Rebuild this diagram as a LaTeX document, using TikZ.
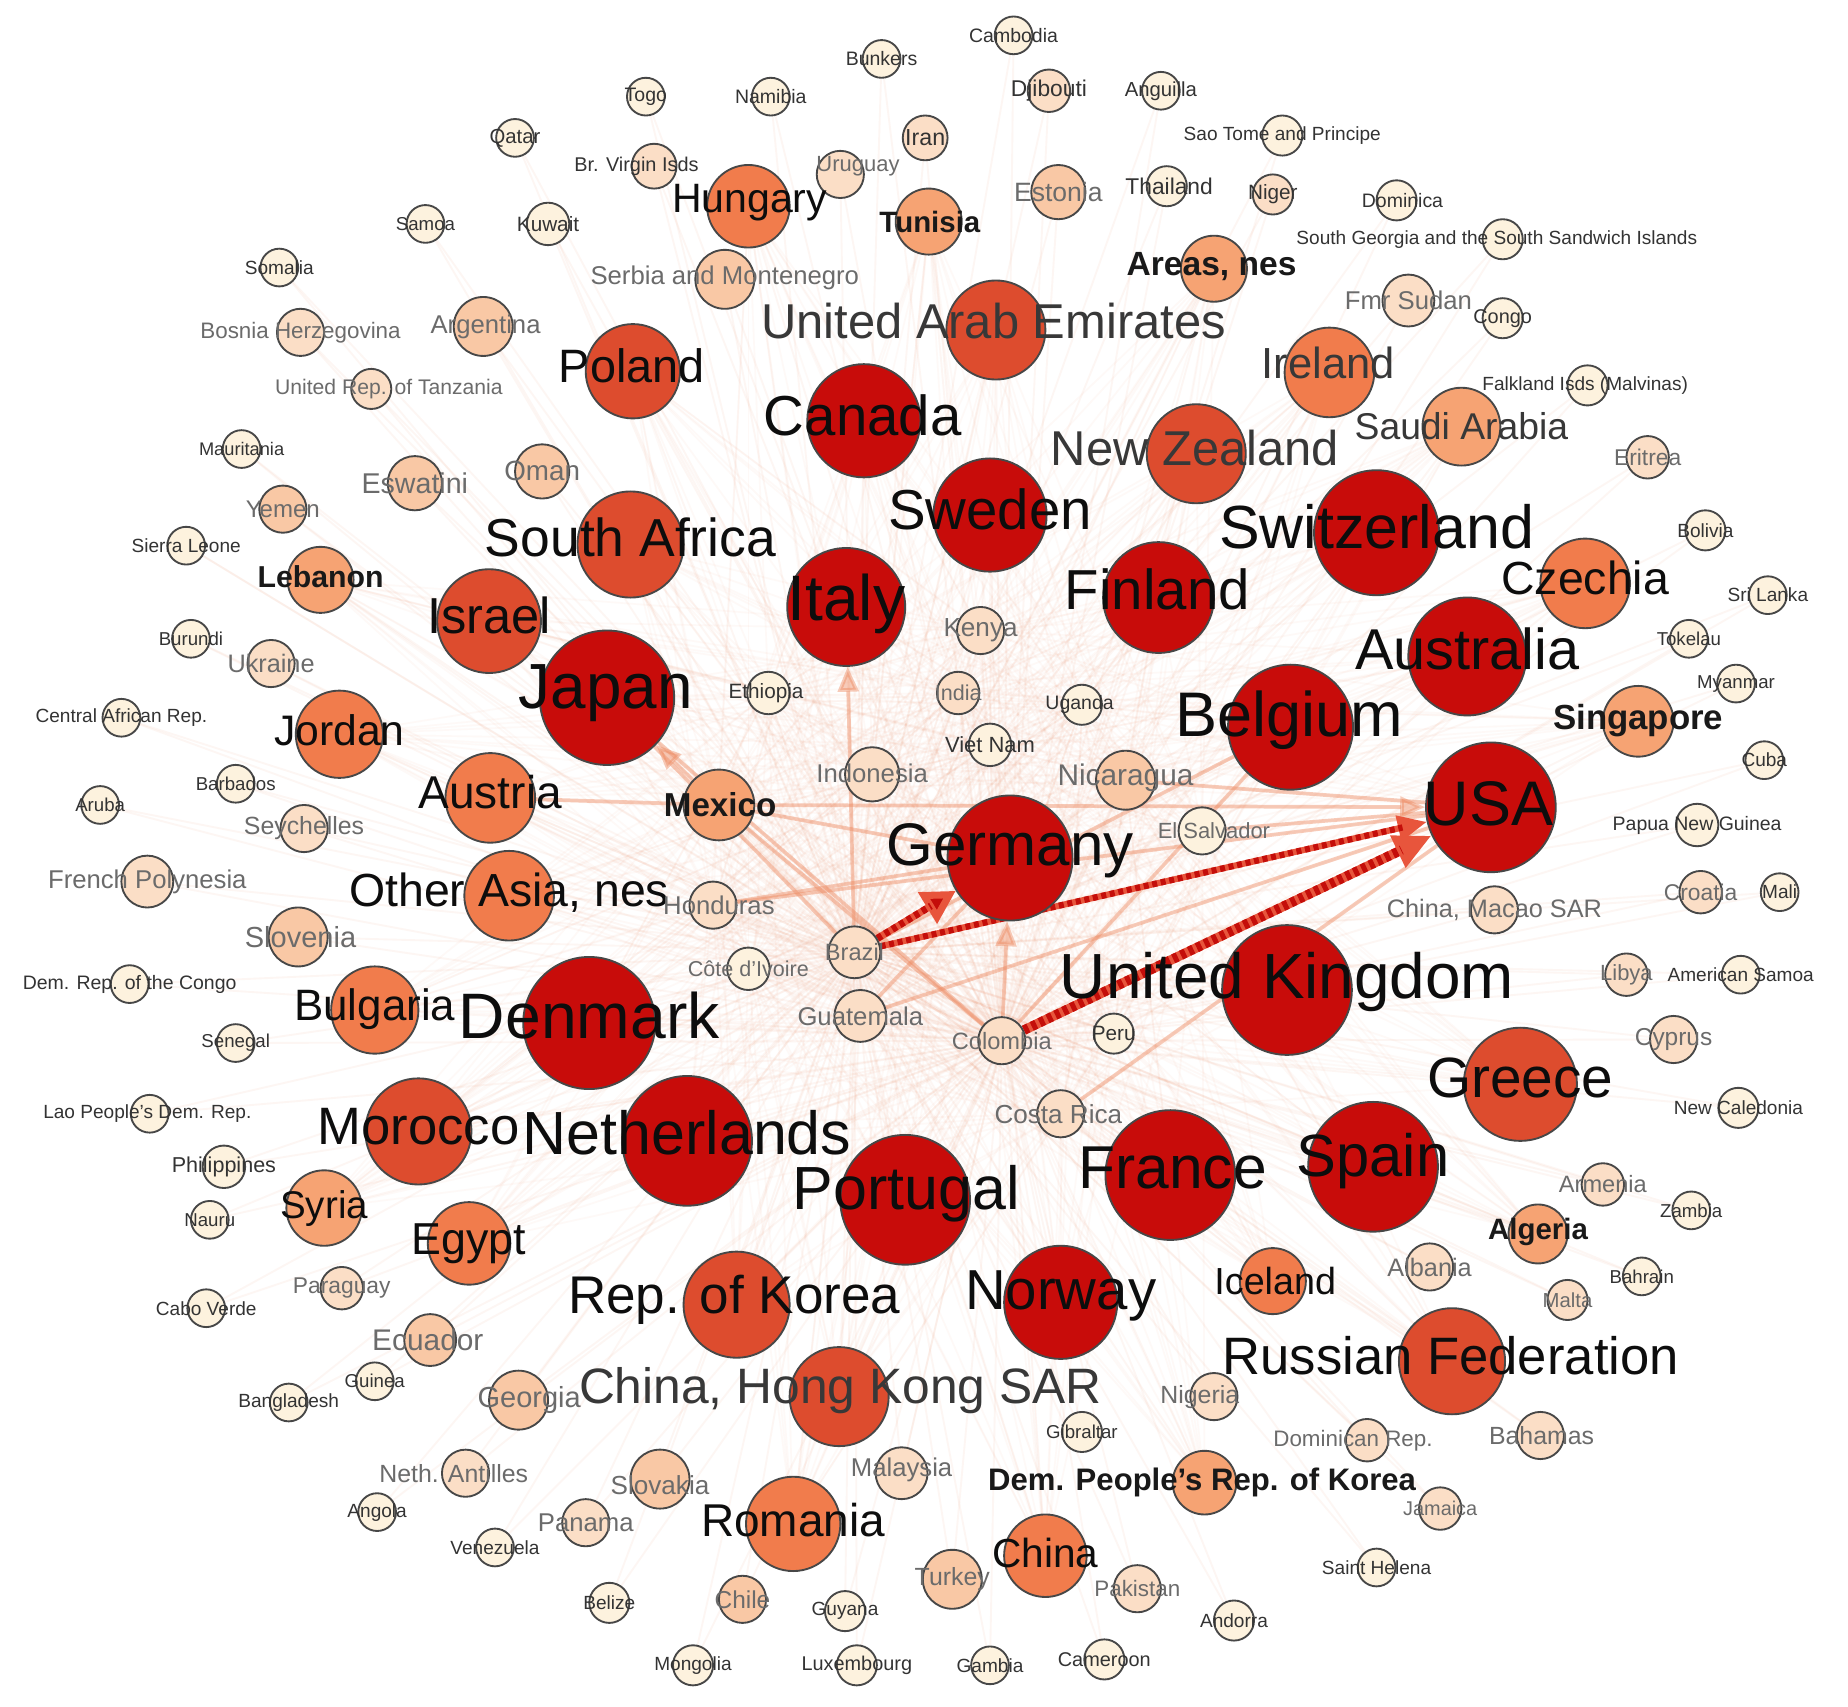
\documentclass[tikz,border=0pt]{standalone}
\usepackage{fontspec}
\setmainfont{Liberation Sans}
\usetikzlibrary{arrows.meta}
\pgfdeclarelayer{bg}\pgfdeclarelayer{fg}\pgfsetlayers{bg,main,fg}
\definecolor{cA}{RGB}{200,12,10}
\definecolor{cB}{RGB}{221,76,46}
\definecolor{cC}{RGB}{241,124,76}
\definecolor{cD}{RGB}{246,163,115}
\definecolor{cE}{RGB}{249,200,165}
\definecolor{cF}{RGB}{251,222,198}
\definecolor{cG}{RGB}{253,242,222}
\definecolor{edgec}{RGB}{238,140,100}
\definecolor{redD}{RGB}{196,14,10}
\definecolor{redL}{RGB}{232,85,60}
\tikzset{
  cty/.style={circle, draw=black!72, line width=0.45pt, inner sep=0pt},
  Lk/.style={inner sep=0pt, text=black!95, font=\fontsize{#1pt}{#1pt}\selectfont},
  Ld/.style={inner sep=0pt, text=black!78, font=\fontsize{#1pt}{#1pt}\selectfont},
  Lg/.style={inner sep=0pt, text=black!58, font=\fontsize{#1pt}{#1pt}\selectfont},
  Lt/.style={inner sep=0pt, text=black!80, font=\fontsize{#1pt}{#1pt}\selectfont},
  Lb/.style={inner sep=0pt, text=black!90, font=\fontsize{#1pt}{#1pt}\selectfont\bfseries},
  fan/.style={draw=edgec, line width=0.45pt, opacity=0.075},
  fantwo/.style={draw=edgec, line width=0.4pt, opacity=0.05},
  med/.style={draw=edgec, line width=0.9pt, opacity=0.45},
  medA/.style={med, -{Triangle[length=6pt,width=5pt]}},
  bigD/.style={draw=redL, line width=2.3pt, -{Triangle[length=9pt,width=8pt]},
     postaction={draw=redD, line width=2.3pt, dash pattern=on 1.2pt off 0.9pt, -, shorten >=8pt}},
  bigL/.style={draw=redL, line width=1.5pt, -{Triangle[length=7pt,width=6pt]},
     postaction={draw=redD, line width=1.5pt, dash pattern=on 1.2pt off 0.9pt, -, shorten >=6pt}},
  bigG/.style={draw=redL, line width=1.7pt, -{Triangle[length=8pt,width=8.5pt,fill=redD]},
     postaction={draw=redD, line width=1.7pt, dash pattern=on 1.2pt off 0.9pt, -, shorten >=7pt}},
}
\newcommand\C[9]{%
  \node[cty,#5,minimum size=#4*0.5691pt] (#1) at (#2,#3) {};
  \begin{pgfonlayer}{fg}\node[#8] (#1-t) at (#6,#7) {#9};\end{pgfonlayer}}
\begin{document}
\begin{tikzpicture}[x=0.01cm,y=-0.01cm]
\useasboundingbox (0,0) rectangle (1568,1448);
\C{Cambodia}{860}{30}{16}{fill=cG}{860}{30}{Lt=4.7}{Cambodia}
\C{Bunkers}{748}{50}{16}{fill=cG}{748}{50}{Lt=4.7}{Bunkers}
\C{Togo}{548}{82}{16}{fill=cG}{548}{82}{Lt=4.7}{Togo}
\C{Namibia}{654}{82}{16}{fill=cG}{654}{82}{Lt=4.7}{Namibia}
\C{Djibouti}{890}{77}{18}{fill=cF}{890}{77}{Lt=5.5}{Djibouti}
\C{Anguilla}{985}{77}{16}{fill=cG}{985}{77}{Lt=4.9}{Anguilla}
\C{Qatar}{437}{117}{16}{fill=cG}{437}{117}{Lt=4.9}{Qatar}
\C{Iran}{785}{117}{19}{fill=cF}{785}{117}{Lt=5.6}{Iran}
\C{SaoTome}{1088}{115}{17}{fill=cG}{1088}{115}{Lt=4.6}{Sao Tome and Principe}
\C{BrVirgin}{555}{141}{19}{fill=cF}{540}{141}{Lt=4.8}{Br. Virgin Isds}
\C{Uruguay}{713}{148}{20}{fill=cF}{728}{141}{Lg=5.3}{Uruguay}
\C{Estonia}{898}{163}{23}{fill=cE}{898}{163}{Lg=6.4}{Estonia}
\C{Thailand}{990}{158}{17}{fill=cG}{992}{158}{Lt=5.5}{Thailand}
\C{Niger}{1080}{165}{17}{fill=cF}{1080}{165}{Lt=5}{Niger}
\C{Dominica}{1185}{170}{17}{fill=cG}{1190}{170}{Lt=4.7}{Dominica}
\C{Hungary}{635}{175}{35}{fill=cC}{636}{172}{Lk=9.9}{Hungary}
\C{Tunisia}{788}{188}{28}{fill=cD}{789}{188}{Lb=7.1}{Tunisia}
\C{Samoa}{361}{190}{16}{fill=cG}{361}{190}{Lt=4.5}{Samoa}
\C{Kuwait}{465}{190}{18}{fill=cG}{465}{190}{Lt=5}{Kuwait}
\C{Somalia}{237}{227}{16}{fill=cG}{237}{227}{Lt=4.6}{Somalia}
\C{SGeorgia}{1275}{203}{17}{fill=cG}{1270}{203}{Lt=4.6}{South Georgia and the South Sandwich Islands}
\C{AreasNes}{1030}{228}{28}{fill=cD}{1028}{226}{Lb=8.1}{Areas, nes}
\C{Serbia}{615}{237}{25}{fill=cE}{615}{236}{Lg=6.2}{Serbia and Montenegro}
\C{FmrSudan}{1195}{255}{22}{fill=cF}{1195}{255}{Lg=6.2}{Fmr Sudan}
\C{Congo}{1275}{270}{17}{fill=cG}{1275}{270}{Lt=4.8}{Congo}
\C{Bosnia}{255}{282}{20}{fill=cF}{255}{282}{Lg=5.4}{Bosnia Herzegovina}
\C{Argentina}{410}{277}{25}{fill=cE}{412}{277}{Lg=6.2}{Argentina}
\C{UAE}{845}{280}{42}{fill=cB}{843}{272}{Ld=11.8}{United Arab Emirates}
\C{Poland}{537}{315}{40}{fill=cB}{536}{310}{Lk=11.3}{Poland}
\C{Ireland}{1128}{316}{38}{fill=cC}{1127}{308}{Ld=10.5}{Ireland}
\C{Tanzania}{315}{330}{17}{fill=cF}{330}{330}{Lg=5.1}{United Rep. of Tanzania}
\C{Falkland}{1347}{327}{17}{fill=cG}{1345}{327}{Lt=4.6}{Falkland Isds (Malvinas)}
\C{Canada}{733}{357}{48}{fill=cA}{732}{352}{Lk=13.6}{Canada}
\C{SaudiArabia}{1240}{362}{33}{fill=cD}{1240}{362}{Ld=9}{Saudi Arabia}
\C{NewZealand}{1015}{385}{42}{fill=cB}{1014}{380}{Ld=11.8}{New Zealand}
\C{Mauritania}{205}{381}{16}{fill=cG}{205}{381}{Lt=4.4}{Mauritania}
\C{Eritrea}{1398}{388}{18}{fill=cF}{1398}{388}{Lg=5.5}{Eritrea}
\C{Eswatini}{352}{410}{23}{fill=cE}{352}{410}{Lg=6.9}{Eswatini}
\C{Oman}{460}{400}{23}{fill=cE}{460}{400}{Lg=6.7}{Oman}
\C{Sweden}{840}{437}{48}{fill=cA}{840}{432}{Lk=13.6}{Sweden}
\C{Switzerland}{1168}{452}{53}{fill=cA}{1168}{447}{Lk=14.7}{Switzerland}
\C{Yemen}{240}{432}{20}{fill=cE}{240}{432}{Lg=5.8}{Yemen}
\C{SierraLeone}{158}{463}{16}{fill=cG}{158}{463}{Lt=4.6}{Sierra Leone}
\C{Bolivia}{1447}{450}{17}{fill=cG}{1447}{450}{Lt=4.6}{Bolivia}
\C{SouthAfrica}{535}{462}{45}{fill=cB}{535}{456}{Lk=12.9}{South Africa}
\C{Lebanon}{272}{492}{28}{fill=cD}{272}{489}{Lb=7.3}{Lebanon}
\C{Czechia}{1345}{495}{38}{fill=cC}{1345}{490}{Lk=11.2}{Czechia}
\C{Italy}{718}{515}{50}{fill=cA}{718}{512}{Lk=15.5}{Italy}
\C{Finland}{983}{507}{47}{fill=cA}{982}{500}{Lk=13.6}{Finland}
\C{Israel}{415}{527}{44}{fill=cB}{415}{522}{Lk=12.2}{Israel}
\C{SriLanka}{1500}{505}{16}{fill=cG}{1500}{505}{Lt=4.6}{Sri Lanka}
\C{Burundi}{162}{542}{16}{fill=cG}{162}{542}{Lt=4.5}{Burundi}
\C{Kenya}{832}{535}{20}{fill=cF}{832}{535}{Lg=6.3}{Kenya}
\C{Tokelau}{1433}{542}{16}{fill=cG}{1433}{542}{Lt=4.5}{Tokelau}
\C{Australia}{1245}{557}{50}{fill=cA}{1245}{551}{Lk=13.9}{Australia}
\C{Ukraine}{230}{563}{20}{fill=cF}{230}{563}{Lg=6.1}{Ukraine}
\C{Japan}{515}{592}{57}{fill=cA}{514}{588}{Lk=15.4}{Japan}
\C{Ethiopia}{652}{588}{18}{fill=cG}{650}{588}{Lt=5}{Ethiopia}
\C{India}{813}{588}{18}{fill=cF}{813}{588}{Lg=5.2}{India}
\C{Uganda}{918}{598}{17}{fill=cG}{916}{598}{Lt=4.7}{Uganda}
\C{Myanmar}{1473}{580}{16}{fill=cG}{1473}{580}{Lt=4.5}{Myanmar}
\C{Jordan}{288}{623}{37}{fill=cC}{288}{620}{Lk=10.3}{Jordan}
\C{CAR}{103}{609}{16}{fill=cG}{103}{609}{Lt=4.6}{Central African Rep.}
\C{Belgium}{1095}{617}{53}{fill=cA}{1094}{611}{Lk=15.2}{Belgium}
\C{Singapore}{1390}{612}{30}{fill=cD}{1390}{611}{Lb=8.4}{Singapore}
\C{VietNam}{840}{632}{18}{fill=cG}{840}{632}{Lt=5.3}{Viet Nam}
\C{Indonesia}{740}{657}{23}{fill=cF}{740}{656}{Lg=6.2}{Indonesia}
\C{Nicaragua}{955}{662}{25}{fill=cE}{955}{660}{Lg=7.2}{Nicaragua}
\C{Austria}{416}{677}{38}{fill=cC}{416}{672}{Lk=11.1}{Austria}
\C{Barbados}{200}{665}{16}{fill=cG}{200}{665}{Lt=4.5}{Barbados}
\C{Mexico}{610}{683}{30}{fill=cD}{611}{683}{Lb=8}{Mexico}
\C{USA}{1265}{685}{55}{fill=cA}{1263}{682}{Lk=15.2}{USA}
\C{Cuba}{1497}{645}{16}{fill=cG}{1497}{645}{Lt=4.6}{Cuba}
\C{Aruba}{85}{683}{16}{fill=cG}{85}{683}{Lt=4.5}{Aruba}
\C{Seychelles}{258}{703}{20}{fill=cF}{258}{703}{Lg=6}{Seychelles}
\C{PNG}{1440}{700}{18}{fill=cG}{1440}{700}{Lt=4.7}{Papua New Guinea}
\C{Germany}{857}{728}{53}{fill=cA}{857}{722}{Lk=14.5}{Germany}
\C{ElSalvador}{1020}{705}{20}{fill=cG}{1030}{705}{Lg=5.3}{El Salvador}
\C{FPolynesia}{125}{748}{22}{fill=cF}{125}{748}{Lg=6.2}{French Polynesia}
\C{OtherAsia}{432}{760}{38}{fill=cC}{432}{757}{Lk=11.2}{Other Asia, nes}
\C{Honduras}{605}{768}{20}{fill=cF}{610}{768}{Lg=6.2}{Honduras}
\C{Macao}{1268}{772}{20}{fill=cF}{1268}{772}{Lg=6.1}{China, Macao SAR}
\C{Croatia}{1443}{757}{18}{fill=cF}{1443}{757}{Lg=5.5}{Croatia}
\C{Mali}{1510}{757}{16}{fill=cG}{1510}{757}{Lt=4.6}{Mali}
\C{Slovenia}{253}{795}{25}{fill=cE}{255}{795}{Lg=7}{Slovenia}
\C{Brazil}{725}{808}{22}{fill=cF}{725}{808}{Lg=5.7}{Brazil}
\C{CoteIvoire}{635}{822}{18}{fill=cG}{635}{822}{Lg=5.2}{Côte d'Ivoire}
\C{UK}{1092}{840}{55}{fill=cA}{1092}{833}{Lk=15.4}{United Kingdom}
\C{Libya}{1380}{827}{18}{fill=cF}{1380}{827}{Lg=5.3}{Libya}
\C{AmSamoa}{1477}{827}{16}{fill=cG}{1477}{827}{Lt=4.6}{American Samoa}
\C{DRC}{110}{835}{16}{fill=cG}{110}{835}{Lt=4.7}{Dem. Rep. of the Congo}
\C{Bulgaria}{318}{857}{37}{fill=cC}{318}{856}{Lk=10.6}{Bulgaria}
\C{Denmark}{500}{868}{56}{fill=cA}{500}{862}{Lk=15.5}{Denmark}
\C{Guatemala}{730}{862}{22}{fill=cF}{730}{862}{Lg=6.2}{Guatemala}
\C{Colombia}{850}{883}{20}{fill=cF}{850}{883}{Lg=5.7}{Colombia}
\C{Peru}{945}{877}{17}{fill=cG}{945}{877}{Lt=5}{Peru}
\C{Cyprus}{1420}{882}{20}{fill=cF}{1420}{882}{Lg=5.9}{Cyprus}
\C{Senegal}{200}{885}{16}{fill=cG}{200}{885}{Lt=4.5}{Senegal}
\C{Greece}{1290}{920}{48}{fill=cB}{1290}{915}{Lk=13.7}{Greece}
\C{CostaRica}{900}{945}{20}{fill=cF}{898}{945}{Lg=6.3}{Costa Rica}
\C{NewCaledonia}{1475}{940}{17}{fill=cG}{1475}{940}{Lt=4.6}{New Caledonia}
\C{Lao}{127}{945}{16}{fill=cG}{125}{945}{Lt=4.6}{Lao People's Dem. Rep.}
\C{Morocco}{355}{960}{45}{fill=cB}{355}{956}{Lk=12.7}{Morocco}
\C{Netherlands}{583}{968}{55}{fill=cA}{583}{961}{Lk=14.7}{Netherlands}
\C{France}{993}{997}{55}{fill=cA}{995}{991}{Lk=14.6}{France}
\C{Spain}{1165}{990}{55}{fill=cA}{1165}{985}{Lk=14.4}{Spain}
\C{Philippines}{190}{990}{18}{fill=cG}{190}{990}{Lt=5.2}{Philippines}
\C{Armenia}{1360}{1005}{18}{fill=cF}{1360}{1005}{Lg=5.7}{Armenia}
\C{Zambia}{1435}{1027}{16}{fill=cG}{1435}{1027}{Lt=4.5}{Zambia}
\C{Portugal}{768}{1018}{55}{fill=cA}{769}{1013}{Lk=14.7}{Portugal}
\C{Nauru}{178}{1035}{16}{fill=cG}{178}{1035}{Lt=4.5}{Nauru}
\C{Syria}{275}{1025}{32}{fill=cD}{275}{1025}{Lk=9.3}{Syria}
\C{Egypt}{398}{1055}{35}{fill=cC}{398}{1055}{Lk=10.8}{Egypt}
\C{Algeria}{1305}{1047}{25}{fill=cD}{1305}{1045}{Lb=7.1}{Algeria}
\C{Bahrain}{1393}{1083}{16}{fill=cG}{1393}{1083}{Lt=4.5}{Bahrain}
\C{Malta}{1330}{1103}{17}{fill=cF}{1330}{1103}{Lg=4.9}{Malta}
\C{Albania}{1213}{1075}{20}{fill=cF}{1213}{1075}{Lg=6.1}{Albania}
\C{Iceland}{1080}{1087}{28}{fill=cC}{1082}{1087}{Lk=9.1}{Iceland}
\C{Paraguay}{290}{1093}{18}{fill=cF}{290}{1093}{Lg=5.5}{Paraguay}
\C{CaboVerde}{175}{1110}{16}{fill=cG}{175}{1110}{Lt=4.6}{Cabo Verde}
\C{RepKorea}{625}{1107}{45}{fill=cB}{623}{1103}{Lk=12.8}{Rep. of Korea}
\C{Norway}{900}{1105}{48}{fill=cA}{900}{1100}{Lk=13.6}{Norway}
\C{Ecuador}{365}{1137}{22}{fill=cE}{363}{1137}{Lg=7.2}{Ecuador}
\C{Russia}{1232}{1155}{45}{fill=cB}{1231}{1150}{Lk=12.7}{Russian Federation}
\C{Guinea}{318}{1172}{16}{fill=cG}{318}{1172}{Lt=4.5}{Guinea}
\C{Bangladesh}{245}{1190}{16}{fill=cG}{245}{1190}{Lt=4.6}{Bangladesh}
\C{Georgia}{440}{1188}{25}{fill=cE}{449}{1188}{Lg=7}{Georgia}
\C{HongKong}{712}{1185}{42}{fill=cB}{713}{1180}{Ld=12}{China, Hong Kong SAR}
\C{Nigeria}{1030}{1185}{20}{fill=cF}{1018}{1185}{Lg=6}{Nigeria}
\C{Gibraltar}{918}{1215}{17}{fill=cG}{918}{1215}{Lt=4.5}{Gibraltar}
\C{DomRep}{1160}{1222}{18}{fill=cF}{1148}{1222}{Lg=5.4}{Dominican Rep.}
\C{Bahamas}{1307}{1218}{20}{fill=cF}{1308}{1218}{Lg=6}{Bahamas}
\C{NethAntilles}{395}{1250}{20}{fill=cF}{385}{1250}{Lg=6}{Neth. Antilles}
\C{Slovakia}{560}{1255}{25}{fill=cE}{560}{1260}{Lg=6.3}{Slovakia}
\C{Malaysia}{765}{1250}{22}{fill=cF}{765}{1247}{Lg=6.2}{Malaysia}
\C{DPRK}{1022}{1258}{27}{fill=cD}{1020}{1258}{Lb=7.5}{Dem. People's Rep. of Korea}
\C{Angola}{320}{1283}{16}{fill=cG}{320}{1283}{Lt=4.6}{Angola}
\C{Jamaica}{1222}{1280}{18}{fill=cF}{1222}{1280}{Lg=4.8}{Jamaica}
\C{Romania}{673}{1293}{40}{fill=cC}{673}{1290}{Lk=11.1}{Romania}
\C{Panama}{497}{1292}{20}{fill=cF}{497}{1292}{Lg=6.2}{Panama}
\C{Venezuela}{420}{1313}{16}{fill=cG}{420}{1313}{Lt=4.6}{Venezuela}
\C{China}{887}{1320}{35}{fill=cC}{887}{1318}{Lk=9.8}{China}
\C{SaintHelena}{1168}{1330}{16}{fill=cG}{1168}{1330}{Lt=4.6}{Saint Helena}
\C{Turkey}{808}{1340}{25}{fill=cE}{808}{1340}{Lg=6}{Turkey}
\C{Pakistan}{965}{1348}{20}{fill=cF}{965}{1348}{Lg=5.4}{Pakistan}
\C{Belize}{517}{1360}{17}{fill=cG}{517}{1360}{Lt=4.6}{Belize}
\C{Chile}{630}{1357}{20}{fill=cE}{630}{1357}{Lg=5.9}{Chile}
\C{Guyana}{717}{1367}{17}{fill=cG}{717}{1367}{Lt=4.6}{Guyana}
\C{Andorra}{1047}{1375}{17}{fill=cG}{1047}{1375}{Lt=4.6}{Andorra}
\C{Mongolia}{588}{1413}{17}{fill=cG}{588}{1413}{Lt=4.6}{Mongolia}
\C{Luxembourg}{727}{1413}{17}{fill=cG}{727}{1413}{Lt=4.8}{Luxembourg}
\C{Gambia}{840}{1413}{16}{fill=cG}{840}{1413}{Lt=4.6}{Gambia}
\C{Cameroon}{937}{1408}{17}{fill=cG}{937}{1408}{Lt=4.8}{Cameroon}
\def\allN{Cambodia,Bunkers,Togo,Namibia,Djibouti,Anguilla,Qatar,Iran,SaoTome,BrVirgin,Uruguay,Estonia,Thailand,Niger,Dominica,Hungary,Tunisia,Samoa,Kuwait,Somalia,SGeorgia,AreasNes,Serbia,FmrSudan,Congo,Bosnia,Argentina,UAE,Poland,Ireland,Tanzania,Falkland,Canada,SaudiArabia,NewZealand,Mauritania,Eritrea,Eswatini,Oman,Sweden,Switzerland,Yemen,SierraLeone,Bolivia,SouthAfrica,Lebanon,Czechia,Italy,Finland,Israel,SriLanka,Burundi,Kenya,Tokelau,Australia,Ukraine,Japan,Ethiopia,India,Uganda,Myanmar,Jordan,CAR,Belgium,Singapore,VietNam,Indonesia,Nicaragua,Austria,Barbados,Mexico,USA,Cuba,Aruba,Seychelles,PNG,Germany,ElSalvador,FPolynesia,OtherAsia,Honduras,Macao,Croatia,Mali,Slovenia,CoteIvoire,UK,Libya,AmSamoa,DRC,Bulgaria,Denmark,Guatemala,Peru,Cyprus,Senegal,Greece,CostaRica,NewCaledonia,Lao,Morocco,Netherlands,France,Spain,Philippines,Armenia,Zambia,Portugal,Nauru,Syria,Egypt,Algeria,Bahrain,Malta,Albania,Iceland,Paraguay,CaboVerde,RepKorea,Norway,Ecuador,Russia,Guinea,Bangladesh,Georgia,HongKong,Nigeria,Gibraltar,DomRep,Bahamas,NethAntilles,Slovakia,Malaysia,DPRK,Angola,Jamaica,Romania,Panama,Venezuela,China,SaintHelena,Turkey,Pakistan,Belize,Chile,Guyana,Andorra,Mongolia,Luxembourg,Gambia,Cameroon}
\def\impN{USA,Germany,Japan,Denmark,UK,Belgium,Switzerland,Italy,Canada,Sweden,Finland,Australia,France,Spain,Portugal,Netherlands,Norway,Greece,Russia,RepKorea,Morocco,Israel,SouthAfrica,UAE,Poland,NewZealand,HongKong,Ireland,Czechia,Hungary,Jordan,Austria,OtherAsia,Bulgaria,Egypt,Romania,China,Iceland,SaudiArabia,Syria,Lebanon,Singapore,Tunisia,AreasNes,Algeria,DPRK}
\begin{pgfonlayer}{bg}
\fill[white] (0,0) rectangle (1568,1448);
\foreach \t in \allN {\draw[fan] (Brazil) -- (\t); \draw[fan] (Colombia) -- (\t);}
\foreach \h in {Guatemala,Honduras,Mexico,CostaRica,Indonesia,Nicaragua,ElSalvador,Peru,India,VietNam,Kenya,Ethiopia,Uganda,CoteIvoire}
  {\foreach \t in \impN {\draw[fantwo] (\h) -- (\t);}}
\draw[medA] (Mexico) -- (USA);
\draw[medA] (Mexico) -- (Japan);
\draw[medA] (Brazil) -- (Italy);
\draw[medA] (Colombia) -- (Germany);
\draw[med] (Guatemala) -- (USA);
\draw[med] (CostaRica) -- (USA);
\draw[med] (Honduras) -- (USA);
\draw[med] (Nicaragua) -- (USA);
\draw[med] (ElSalvador) -- (USA);
\draw[med] (Mexico) -- (Austria);
\draw[med] (Mexico) -- (Germany);
\draw[med] (Mexico) -- (Colombia);
\draw[med] (Brazil) -- (Japan);
\draw[med] (Colombia) -- (Japan);
\draw[med] (Brazil) -- (Belgium);
\draw[med] (Colombia) -- (Belgium);
\draw[med] (Guatemala) -- (Germany);
\draw[med] (Honduras) -- (Germany);
\draw[bigL] (Brazil) -- (USA);
\draw[bigD] (Colombia) -- (USA);
\draw[bigG] (Brazil) -- (Germany);
\end{pgfonlayer}
\end{tikzpicture}
\end{document}
